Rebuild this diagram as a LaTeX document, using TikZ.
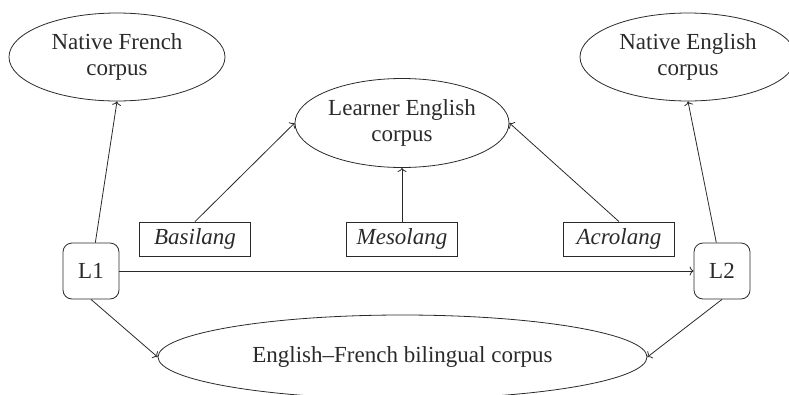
\documentclass[tikz,border=0pt]{standalone}
\usepackage{fontspec}
\setmainfont{Liberation Serif}
\usetikzlibrary{shapes.geometric,arrows.meta}
\definecolor{ink}{HTML}{2A2A2A}
\newcommand{\bigtext}{\fontsize{23}{26}\selectfont}
\tikzset{
  corpus/.style={draw=ink, ellipse, inner sep=0pt, align=center, text=ink, line width=0.8pt},
  lang/.style={draw=ink, rounded corners=9pt, minimum width=56pt, minimum height=56pt, inner sep=0pt, text=ink, line width=0.8pt},
  stage/.style={draw=ink, minimum width=111pt, minimum height=34pt, inner sep=0pt, text=ink, font=\bigtext\itshape, line width=0.8pt},
  link/.style={draw=ink, line width=0.8pt, -{To[length=4pt,width=9pt]}}
}
\begin{document}
\begin{tikzpicture}[x=1pt,y=-1pt,font=\bigtext]
\useasboundingbox (0,0) rectangle (789,394);
\node[corpus, minimum width=216pt, minimum height=88pt] (NF) at (117,57) {Native French\\corpus};
\node[corpus, minimum width=216pt, minimum height=88pt] (NE) at (688,57) {Native English\\corpus};
\node[corpus, minimum width=214pt, minimum height=89pt] (LE) at (402,123) {Learner English\\corpus};
\node[corpus, minimum width=489pt, minimum height=84pt] (BI) at (402.5,357) {English–French bilingual corpus};
\node[lang] (L1) at (91,271) {L1};
\node[lang] (L2) at (722,271) {L2};
\node[stage] (BA) at (195,239) {Basilang};
\node[stage] (ME) at (402,239) {Mesolang};
\node[stage] (AC) at (619,239) {Acrolang};
\draw[link] (L1) -- (NF.south);
\draw[link] (L2) -- (NE.south);
\draw[link] (BA.north) -- (LE.west);
\draw[link] (ME.north) -- (LE.south);
\draw[link] (AC.north) -- (LE.east);
\draw[link] (L1.east) -- (L2.west);
\draw[link] (L1.south) -- (BI.west);
\draw[link] (L2.south) -- (BI.east);
\end{tikzpicture}
\end{document}
